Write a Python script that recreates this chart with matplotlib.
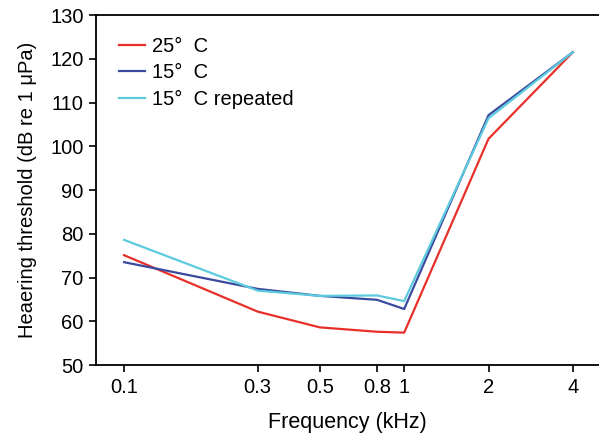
import matplotlib
matplotlib.use("Agg")
import matplotlib.pyplot as plt
from matplotlib.ticker import FixedLocator, NullLocator

plt.rcParams['font.family'] = ['Liberation Sans', 'DejaVu Sans']

freq = [0.1, 0.3, 0.5, 0.8, 1, 2, 4]
freq_labels = ['0.1', '0.3', '0.5', '0.8', '1', '2', '4']
t25 = [75.1, 62.2, 58.6, 57.6, 57.4, 101.7, 121.5]
t15 = [73.5, 67.4, 65.8, 64.9, 62.8, 107.1, 121.5]
t15r = [78.6, 67.0, 65.8, 65.9, 64.6, 106.4, 121.5]
yticks = [50, 60, 70, 80, 90, 100, 110, 120, 130]

fig = plt.figure(figsize=(5.99, 4.36), dpi=100)
ax = fig.add_axes([96/599, 1-365/436, 1-96/599, (365-15)/436])

ax.plot(freq, t25, color='#e8302a', lw=1.6, label='25°  C')
ax.plot(freq, t15, color='#3a4a9e', lw=1.6, label='15°  C')
ax.plot(freq, t15r, color='#5ccbdd', lw=1.6, label='15°  C repeated')

ax.set_xscale('log')
ax.set_xlim(0.0794, 4.96)
ax.set_ylim(50, 130)
ax.xaxis.set_major_locator(FixedLocator(freq))
ax.xaxis.set_minor_locator(NullLocator())
ax.set_xticklabels(freq_labels)
ax.set_yticks(yticks)

ax.spines['right'].set_visible(False)
for s in ['left', 'top', 'bottom']:
    ax.spines[s].set_linewidth(1.3)
ax.tick_params(axis='both', direction='out', length=5, width=1.2, labelsize=14.5, pad=4)

ax.set_xlabel('Frequency (kHz)', fontsize=15.5, labelpad=11)
ax.set_ylabel('Heaering threshold (dB re 1 μPa)', fontsize=14.5, labelpad=9)

leg = ax.legend(loc='upper left', bbox_to_anchor=(23/503, 1-22/350), frameon=False,
                fontsize=14.5, handlelength=1.3, handletextpad=0.35, labelspacing=0.36,
                borderpad=0, borderaxespad=0)

fig.savefig('out.png', dpi=100)
